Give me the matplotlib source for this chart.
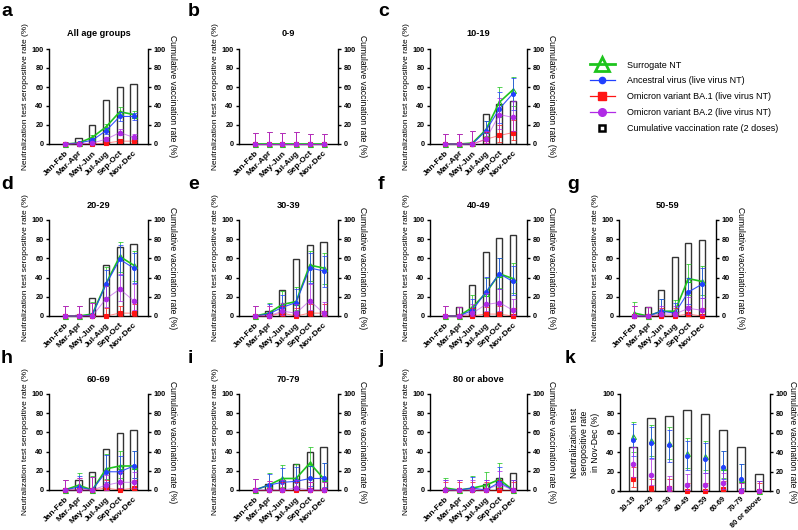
import numpy as np
import matplotlib.pyplot as plt
from matplotlib.lines import Line2D

plt.rcParams['font.family'] = ['Liberation Sans', 'DejaVu Sans']
plt.rcParams['font.weight'] = 'bold'

periods = ['Jan-Feb', 'Mar-Apr', 'May-Jun', 'Jul-Aug', 'Sep-Oct', 'Nov-Dec']
groups = ['All age groups', '0-9', '10-19', '20-29', '30-39', '40-49',
          '50-59', '60-69', '70-79', '80 or above']
letters = ['a', 'b', 'c', 'd', 'e', 'f', 'g', 'h', 'i', 'j']

# cumulative vaccination rate (2 doses), %
vacc = [[0, 6, 20, 46, 60, 63],
        [0, 0, 0, 0, 0, 0],
        [0, 0, 0, 32, 42, 45],
        [0, 1, 19, 53, 72, 75],
        [0, 5, 27, 59, 74, 77],
        [0, 9, 32, 67, 81, 84],
        [0, 9, 27, 61, 76, 79],
        [0, 10, 19, 43, 59, 63],
        [0, 6, 10, 27, 40, 45],
        [0, 0, 0, 6, 12, 18]]

# surrogate NT seropositive rate and 95% CI
sur = [[0, 1, 7, 18, 34, 31],
       [0, 0, 0, 0, 0, 0],
       [0, 0, 1, 15, 44, 57],
       [0, 0, 2, 34, 62, 53],
       [0, 3, 12, 15, 53, 50],
       [0, 0, 9, 24, 44, 39],
       [3, 0, 5, 5, 39, 36],
       [0, 5, 0, 22, 25, 25],
       [0, 5, 12, 12, 28, 12],
       [2, 0, 2, 5, 11, 0]]
sur_lo = [[0, 0, 5, 15, 29, 27],
          [0, 0, 0, 0, 0, 0],
          [0, 0, 0, 8, 28, 40],
          [0, 0, 0, 20, 46, 36],
          [0, 0, 4, 6, 36, 33],
          [0, 0, 3, 13, 29, 24],
          [0, 0, 1, 1, 22, 22],
          [0, 0, 0, 11, 12, 13],
          [0, 0, 3, 3, 14, 0],
          [0, 0, 0, 0, 3, 0]]
sur_hi = [[2, 2, 9, 21, 39, 35],
          [12, 13, 12, 13, 10, 10],
          [10, 11, 14, 24, 60, 71],
          [10, 10, 15, 51, 77, 68],
          [10, 14, 26, 30, 68, 66],
          [10, 9, 22, 40, 60, 55],
          [15, 9, 18, 17, 54, 52],
          [10, 18, 15, 38, 41, 41],
          [11, 18, 26, 27, 45, 28],
          [12, 10, 15, 19, 28, 10]]

# ancestral virus (live virus NT)
anc = [[0, 1, 4, 14, 29, 29],
       [0, 0, 0, 0, 0, 0],
       [0, 0, 0, 14, 37, 53],
       [0, 0, 1, 33, 59, 50],
       [0, 2, 9, 14, 50, 47],
       [0, 0, 6, 25, 44, 36],
       [0, 0, 5, 3, 25, 33],
       [0, 3, 0, 19, 19, 25],
       [0, 5, 8, 9, 12, 12],
       [0, 0, 2, 0, 8, 0]]
anc_lo = [[0, 0, 3, 11, 24, 25],
          [0, 0, 0, 0, 0, 0],
          [0, 0, 0, 7, 22, 36],
          [0, 0, 0, 19, 43, 34],
          [0, 0, 3, 5, 34, 30],
          [0, 0, 1, 13, 28, 22],
          [0, 0, 1, 0, 12, 19],
          [0, 0, 0, 8, 8, 12],
          [0, 0, 1, 2, 4, 3],
          [0, 0, 0, 0, 0, 0]]
anc_hi = [[2, 2, 6, 17, 34, 33],
          [12, 13, 12, 13, 10, 10],
          [10, 11, 14, 24, 55, 69],
          [10, 10, 14, 48, 74, 66],
          [10, 12, 22, 28, 66, 63],
          [10, 9, 18, 41, 60, 52],
          [10, 9, 18, 14, 40, 50],
          [10, 15, 14, 36, 35, 41],
          [11, 17, 23, 24, 25, 28],
          [10, 10, 14, 10, 24, 10]]

# Omicron BA.1 (live virus NT)
ba1 = [[0, 0, 0, 1, 3, 3],
       [0, 0, 0, 0, 0, 0],
       [0, 0, 0, 5, 9, 12],
       [0, 0, 0, 0, 3, 3],
       [0, 0, 3, 0, 3, 3],
       [0, 0, 0, 2, 2, 0],
       [0, 0, 0, 0, 2, 0],
       [0, 0, 0, 2, 0, 2],
       [0, 0, 0, 0, 0, 0],
       [0, 0, 0, 0, 0, 0]]
ba1_lo = [[0, 0, 0, 0, 2, 2],
          [0, 0, 0, 0, 0, 0],
          [0, 0, 0, 1, 2, 4],
          [0, 0, 0, 0, 0, 0],
          [0, 0, 0, 0, 0, 0],
          [0, 0, 0, 0, 0, 0],
          [0, 0, 0, 0, 0, 0],
          [0, 0, 0, 0, 0, 0],
          [0, 0, 0, 0, 0, 0],
          [0, 0, 0, 0, 0, 0]]
ba1_hi = [[1, 1, 1, 2, 5, 4],
          [12, 13, 12, 13, 10, 10],
          [10, 11, 14, 13, 20, 25],
          [10, 10, 14, 8, 10, 12],
          [10, 10, 10, 8, 12, 12],
          [10, 9, 8, 9, 10, 8],
          [10, 9, 8, 8, 10, 8],
          [10, 12, 14, 10, 8, 10],
          [11, 9, 8, 8, 8, 8],
          [8, 8, 8, 8, 10, 8]]

# Omicron BA.2 (live virus NT)
ba2 = [[0, 0, 1, 5, 12, 7],
       [0, 0, 0, 0, 0, 0],
       [0, 0, 0, 5, 31, 28],
       [0, 0, 0, 18, 28, 16],
       [0, 0, 5, 3, 16, 3],
       [0, 0, 3, 12, 14, 6],
       [0, 0, 2, 2, 8, 6],
       [0, 0, 0, 5, 8, 8],
       [0, 0, 0, 2, 0, 0],
       [0, 0, 0, 0, 6, 0]]
ba2_lo = [[0, 0, 0, 3, 9, 5],
          [0, 0, 0, 0, 0, 0],
          [0, 0, 0, 1, 16, 14],
          [0, 0, 0, 9, 16, 6],
          [0, 0, 1, 0, 6, 0],
          [0, 0, 0, 5, 5, 1],
          [0, 0, 0, 0, 2, 1],
          [0, 0, 0, 0, 2, 2],
          [0, 0, 0, 0, 0, 0],
          [0, 0, 0, 0, 1, 0]]
ba2_hi = [[1, 1, 2, 7, 16, 10],
          [12, 13, 12, 13, 10, 10],
          [10, 11, 14, 14, 48, 45],
          [10, 10, 14, 31, 44, 33],
          [10, 10, 14, 12, 33, 15],
          [10, 9, 13, 24, 28, 18],
          [10, 9, 10, 10, 20, 19],
          [10, 12, 14, 16, 19, 19],
          [11, 9, 10, 10, 8, 8],
          [10, 10, 10, 10, 20, 10]]

# panel k: Nov-Dec values for the age groups 10-19 ... 80 or above
k_groups = groups[2:]

GREEN = '#1ec41e'
BLUE = '#2140ff'
RED = '#ff1414'
PURPLE = '#b02ae6'

W, H = 798, 530
fig = plt.figure(figsize=(W / 100, H / 100), dpi=100)


def px_axes(x0, y0, x1, y1):
    return fig.add_axes([x0 / W, 1 - y1 / H, (x1 - x0) / W, (y1 - y0) / H])


def series(ax, x, y, lo, hi, color, marker, ms, lw, alpha_line, z, connect, mfc=None):
    y = np.asarray(y, float)
    lo = np.asarray(lo, float)
    hi = np.asarray(hi, float)
    ax.errorbar(x, y, yerr=[y - lo, hi - y], fmt='none', ecolor=color,
                elinewidth=0.7, capsize=1.8, capthick=0.7, alpha=0.75,
                zorder=z, clip_on=False)
    if connect:
        ax.plot(x, y, color=color, lw=lw, alpha=alpha_line, zorder=z, clip_on=False)
    ax.plot(x, y, ls='none', marker=marker, ms=ms, color=color,
            mfc=mfc if mfc else color, mec=color, mew=0.8, zorder=z + 0.5,
            clip_on=False)


def style(ax, xlabels, xlim, ylabel, right_label='Cumulative vaccination rate (%)',
          xsize=6, rpad=2):
    ax.set_xlim(*xlim)
    ax.set_ylim(0, 100)
    ax.set_yticks(range(0, 101, 20))
    ax.set_xticks(range(len(xlabels)))
    ax.set_xticklabels(xlabels, rotation=45, ha='right', rotation_mode='anchor')
    ax.spines['top'].set_visible(False)
    ax.spines['right'].set_visible(False)
    for s in ('left', 'bottom'):
        ax.spines[s].set_linewidth(1.0)
    ax.tick_params(axis='y', width=1.0, length=2.5, labelsize=5.2, pad=1.5)
    ax.tick_params(axis='x', length=0, labelsize=xsize, pad=4)
    ax.set_ylabel(ylabel, fontsize=6.0, labelpad=2)
    ax2 = ax.twinx()
    ax2.set_ylim(0, 100)
    ax2.set_yticks(range(0, 101, 20))
    for s in ('top', 'left', 'bottom'):
        ax2.spines[s].set_visible(False)
    ax2.spines['right'].set_linewidth(1.0)
    ax2.tick_params(width=1.0, length=2.5, labelsize=5.2, pad=1.5)
    ax2.set_ylabel(right_label, fontsize=6.2, rotation=270, va='bottom', labelpad=rpad)
    return ax2


def draw_all(ax, x, v, s, sl, sh, a, al, ah, b1, b1l, b1h, b2, b2l, b2h, connect):
    ax.bar(x, v, width=0.45, facecolor='white', edgecolor='#333333', lw=1.0, zorder=1)
    series(ax, x, s, sl, sh, GREEN, '^', 3.6, 1.2, 1.0, 3, connect, mfc='none')
    series(ax, x, a, al, ah, BLUE, 'o', 2.8, 0.8, 0.9, 4, connect)
    series(ax, x, b1, b1l, b1h, RED, 's', 3.2, 0.7, 0.5, 5, connect)
    series(ax, x, b2, b2l, b2h, PURPLE, 'o', 3.2, 0.7, 0.55, 6, connect)


# pixel boxes of panels a-j (left, top, right, bottom)
cols = [(49, 148), (239, 338), (430, 527), (619, 716)]
rows = [(49, 144), (220, 316), (394, 490)]
boxes = [(cols[0], rows[0]), (cols[1], rows[0]), (cols[2], rows[0]),
         (cols[0], rows[1]), (cols[1], rows[1]), (cols[2], rows[1]), (cols[3], rows[1]),
         (cols[0], rows[2]), (cols[1], rows[2]), (cols[2], rows[2])]
letter_pos = [(1, 16), (188, 16), (378, 16),
              (1, 189), (188, 189), (378, 189), (567, 189),
              (1, 363), (188, 363), (378, 363), (565, 363)]

x = np.arange(len(periods))
for i, ((cx, ry), title) in enumerate(zip(boxes, groups)):
    ax = px_axes(cx[0], ry[0], cx[1], ry[1])
    draw_all(ax, x, vacc[i], sur[i], sur_lo[i], sur_hi[i], anc[i], anc_lo[i], anc_hi[i],
             ba1[i], ba1_lo[i], ba1_hi[i], ba2[i], ba2_lo[i], ba2_hi[i], True)
    style(ax, periods, (-1.15, 6.05), 'Neutralization test seropositive rate (%)')
    ax.set_title(title, fontsize=6.6, fontweight='bold', pad=9)

# panel k
xk = np.arange(len(k_groups))
last = lambda arr: [row[-1] for row in arr[2:]]
axk = px_axes(620, 394, 770, 491)
draw_all(axk, xk, last(vacc), last(sur), last(sur_lo), last(sur_hi),
         last(anc), last(anc_lo), last(anc_hi), last(ba1), last(ba1_lo), last(ba1_hi),
         last(ba2), last(ba2_lo), last(ba2_hi), False)
style(axk, k_groups, (-0.72, 7.6), 'Neutralization test\nseropositive rate\nin Nov-Dec (%)',
      xsize=5.4, rpad=0)
axk.tick_params(axis='x', pad=3)
axk.yaxis.label.set_fontsize(6.3)

for (lx, ly), letter in zip(letter_pos, letters + ['k']):
    fig.text(lx / W, 1 - ly / H, letter, fontsize=14, fontweight='bold', va='baseline')

handles = [
    Line2D([], [], color=GREEN, lw=2, marker='^', ms=10, mfc='none', mec=GREEN, mew=2),
    Line2D([], [], color=BLUE, lw=0.9, marker='o', ms=4.5),
    Line2D([], [], color=RED, lw=0.9, marker='s', ms=5.5),
    Line2D([], [], color=PURPLE, lw=0.9, marker='o', ms=5.5),
    Line2D([], [], ls='none', marker='s', ms=5, mfc='white', mec='black', mew=1.8),
]
labels = ['Surrogate NT', 'Ancestral virus (live virus NT)',
          'Omicron variant BA.1 (live virus NT)', 'Omicron variant BA.2 (live virus NT)',
          'Cumulative vaccination rate (2 doses)']
fig.legend(handles, labels, loc='upper left', bbox_to_anchor=(586 / W, 1 - 57 / H),
           frameon=False, prop={'size': 6.5, 'weight': 'normal'}, handlelength=2.8,
           handletextpad=1.3, labelspacing=0.75, borderaxespad=0)

fig.savefig('out.png', dpi=100)
